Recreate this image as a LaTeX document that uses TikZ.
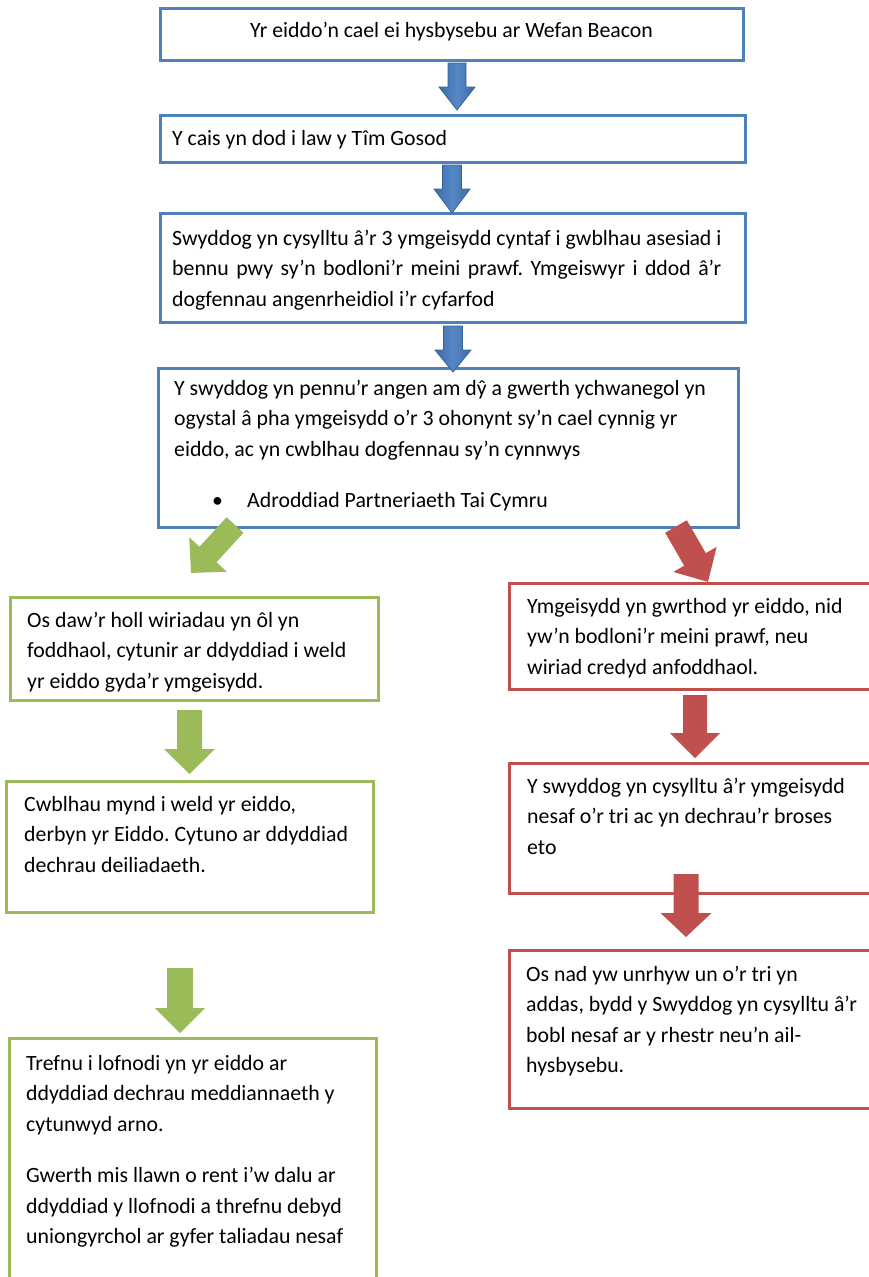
\documentclass[tikz,border=0pt]{standalone}
\usepackage{fontspec}
\setmainfont{Carlito}
\frenchspacing
\definecolor{bluebd}{HTML}{4F81BD}
\definecolor{greenbd}{HTML}{9BBB59}
\definecolor{redbd}{HTML}{C0504D}
\definecolor{blueD}{HTML}{3D6BA6}
\definecolor{blueL}{HTML}{5687C6}
\definecolor{blueO}{HTML}{3A6496}
\newlength\jw
\newcommand{\lns}[1]{\begin{tabular}[t]{@{}l@{}}#1\end{tabular}}
% down block arrow: style, cx, top, shaft w, head w, head start, tip
\newcommand{\downarr}[7]{%
  \path[#1] ({#2-#4/2},#3) -- ({#2+#4/2},#3) -- ({#2+#4/2},#6) -- ({#2+#5/2},#6)
    -- (#2,#7) -- ({#2-#5/2},#6) -- ({#2-#4/2},#6) -- cycle;}
% rotated block arrow: style, x, y, angle, length, shaft w, head w, head length
\newcommand{\diagarr}[8]{%
  \begin{scope}[shift={(#2,#3)},rotate=#4]
  \path[#1] (0,{-#6/2}) -- ({#5-#8},{-#6/2}) -- ({#5-#8},{-#7/2}) -- (#5,0)
    -- ({#5-#8},{#7/2}) -- ({#5-#8},{#6/2}) -- (0,{#6/2}) -- cycle;
  \end{scope}}
\begin{document}
\begin{tikzpicture}[x=1pt,y=-1pt,
  boxb/.style={draw=bluebd,line width=3pt,inner sep=0,rectangle},
  boxg/.style={draw=greenbd,line width=3pt,inner sep=0,rectangle},
  boxr/.style={draw=redbd,line width=3pt,inner sep=0,rectangle},
  txt/.style={anchor=base west,inner sep=0,font=\fontsize{21.8}{30.5}\selectfont},
  barr/.style={left color=blueD,right color=blueD,middle color=blueL,draw=blueO,line width=0.8pt},
  garr/.style={fill=greenbd},
  rarr/.style={fill=redbd}]
\useasboundingbox (0,0) rectangle (869,1277);
\clip (0,0) rectangle (869,1277);
\fill[white] (0,0) rectangle (869,1277);

% boxes
\node[boxb,minimum width=583,minimum height=52] (b1) at (451.5,34) {};
\node[boxb,minimum width=585,minimum height=47] (b2) at (452.5,138.5) {};
\node[boxb,minimum width=585,minimum height=109] (b3) at (452.5,267.5) {};
\node[boxb,minimum width=580,minimum height=159] (b4) at (448,447.5) {};
\node[boxg,minimum width=368,minimum height=103] (g1) at (194,648.5) {};
\node[boxg,minimum width=367,minimum height=131] (g2) at (189.5,846.5) {};
\node[boxg,minimum width=367,minimum height=262] (g3) at (192.5,1169) {};
\node[boxr,minimum width=371,minimum height=106] (r1) at (694.5,636) {};
\node[boxr,minimum width=371,minimum height=130] (r2) at (694.5,828) {};
\node[boxr,minimum width=371,minimum height=158] (r3) at (694.5,1029) {};

% texts
\node[txt,anchor=base] (t1) at (451.5,37) {Yr eiddo’n cael ei hysbysebu ar Wefan Beacon};
\node[txt] (t2) at (172,145) {Y cais yn dod i law y Tîm Gosod};
\node[txt] (t3) at (172,245) {\settowidth{\jw}{Swyddog yn cysylltu â’r 3 ymgeisydd cyntaf i gwblhau asesiad i}%
  \lns{Swyddog yn cysylltu â’r 3 ymgeisydd cyntaf i gwblhau asesiad i\\
  \makebox[\jw][s]{bennu pwy sy’n bodloni’r meini prawf. Ymgeiswyr i ddod â’r}\\
  dogfennau angenrheidiol i’r cyfarfod}};
\node[txt] (t4) at (174,395) {\lns{Y swyddog yn pennu’r angen am dŷ a gwerth ychwanegol yn\\
  ogystal â pha ymgeisydd o’r 3 ohonynt sy’n cael cynnig yr\\
  eiddo, ac yn cwblhau dogfennau sy’n cynnwys}};
\node[txt] (t4b) at (212,507) {\textbullet};
\node[txt] (t4c) at (247,507) {Adroddiad Partneriaeth Tai Cymru};
\begin{scope}
\clip (10,597) rectangle (378,692);
\node[txt] (t5) at (27,627) {\lns{Os daw’r holl wiriadau yn ôl yn\\
  foddhaol, cytunir ar ddyddiad i weld\\
  yr eiddo gyda’r ymgeisydd.}};
\end{scope}
\node[txt] (t6) at (24,811) {\lns{Cwblhau mynd i weld yr eiddo,\\
  derbyn yr Eiddo. Cytuno ar ddyddiad\\
  dechrau deiliadaeth.}};
\node[txt] (t7) at (26,1070) {\lns{Trefnu i lofnodi yn yr eiddo ar\\
  ddyddiad dechrau meddiannaeth y\\
  cytunwyd arno.\\[21pt]
  Gwerth mis llawn o rent i’w dalu ar\\
  ddyddiad y llofnodi a threfnu debyd\\
  uniongyrchol ar gyfer taliadau nesaf}};
\node[txt] (t8) at (527,613) {\lns{Ymgeisydd yn gwrthod yr eiddo, nid\\
  yw’n bodloni’r meini prawf, neu\\
  wiriad credyd anfoddhaol.}};
\node[txt] (t9) at (527,793) {\lns{Y swyddog yn cysylltu â’r ymgeisydd\\
  nesaf o’r tri ac yn dechrau’r broses\\
  eto}};
\node[txt] (t10) at (526,981) {\lns{Os nad yw unrhyw un o’r tri yn\\
  addas, bydd y Swyddog yn cysylltu â’r\\
  bobl nesaf ar y rhestr neu’n ail-\\
  hysbysebu.}};

% block arrows
\downarr{barr}{457}{63}{18}{36}{87}{110}
\downarr{barr}{452}{165}{19}{36}{189}{213}
\downarr{barr}{453}{326}{19}{36}{350}{372}
\downarr{garr}{189.5}{710}{25}{51}{749}{774}
\downarr{garr}{180}{968}{26}{50}{1008}{1033}
\downarr{rarr}{695}{695}{24}{50}{733}{758}
\downarr{rarr}{686}{874}{25}{51}{913}{937}
\diagarr{garr}{235}{525}{-132.5}{65}{23}{51}{25}
\diagarr{rarr}{676}{526.5}{-60}{64}{25}{50}{26}
\end{tikzpicture}
\end{document}
